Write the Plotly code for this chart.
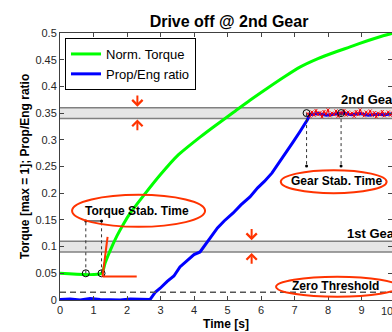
import plotly.graph_objects as go

# ---------------- data ----------------
torque_t = [0, 1.24, 1.35, 1.5, 1.7, 1.9, 2.1, 2.5, 3.0, 3.5, 4.18, 4.6, 5.17, 5.67,
            6.2, 6.7, 7.16, 7.7, 8.2, 8.66, 9.2, 9.6, 9.95]
torque_v = [0.05, 0.05, 0.07, 0.093, 0.12, 0.143, 0.163, 0.196, 0.235, 0.27, 0.305, 0.325,
            0.351, 0.374, 0.397, 0.418, 0.436, 0.452, 0.464, 0.474, 0.486, 0.494, 0.5]

ratio_t = [0, 0.3, 0.6, 0.9, 1.2, 1.5, 1.8, 2.1, 2.4, 2.69, 2.85, 2.99, 3.2, 3.4, 3.58,
           3.8, 4.0, 4.18, 4.48, 4.7, 4.9, 5.17, 5.4, 5.67, 5.9, 6.1, 6.33, 6.55, 6.77,
           6.95, 7.16, 7.3, 7.38, 7.45, 7.7, 7.95, 8.2, 8.45, 8.7, 8.95, 9.2, 9.45, 9.7, 9.95]
ratio_v = [0.001, 0.002, 0.0, 0.003, 0.001, 0.001, 0.0, 0.002, 0.001, 0.001, 0.015, 0.022,
           0.035, 0.045, 0.062, 0.075, 0.085, 0.09, 0.116, 0.135, 0.148, 0.163, 0.178, 0.193,
           0.21, 0.222, 0.238, 0.258, 0.277, 0.295, 0.315, 0.328, 0.337, 0.347, 0.349, 0.346,
           0.348, 0.35, 0.347, 0.349, 0.346, 0.348, 0.347, 0.349]

noisy_t = [7.40, 7.46, 7.52, 7.58, 7.64, 7.70, 7.76, 7.82, 7.88, 7.94, 8.00, 8.06, 8.12,
           8.18, 8.24, 8.30, 8.36, 8.42, 8.48, 8.54, 8.60, 8.66, 8.72, 8.78, 8.84, 8.90,
           8.96, 9.02, 9.08, 9.14, 9.20, 9.26, 9.32, 9.38, 9.44, 9.50, 9.56, 9.62, 9.68,
           9.74, 9.80, 9.86, 9.92]
noisy_v = [0.349, 0.344, 0.352, 0.346, 0.355, 0.347, 0.351, 0.343, 0.353, 0.348, 0.356,
           0.345, 0.350, 0.347, 0.354, 0.344, 0.351, 0.349, 0.355, 0.346, 0.352, 0.348,
           0.350, 0.344, 0.353, 0.347, 0.356, 0.349, 0.345, 0.352, 0.348, 0.354, 0.346,
           0.351, 0.343, 0.350, 0.347, 0.353, 0.345, 0.349, 0.352, 0.346, 0.350]

gear_bands = [(0.09, 0.11), (0.34, 0.36)]
gear_labels = ["1st Gear", "2nd Gear"]
zero_threshold = 0.0145

torque_stab_t = [0.77, 1.24]
torque_stab_v = 0.05
torque_mark_v = 0.148
gear_stab_t = [7.36, 8.39]
gear_stab_v = 0.35
gear_mark_v = 0.251

tangent_h_t = [1.27, 2.29]
tangent_h_v = [0.044, 0.044]
tangent_s_t = [1.27, 1.42]
tangent_s_v = [0.044, 0.118]

x_ticks = [0, 1, 2, 3, 4, 5, 6, 7, 8, 9]
y_ticks = [0, 0.05, 0.1, 0.15, 0.2, 0.25, 0.3, 0.35, 0.4, 0.45, 0.5]

RED = "#ff3300"
FONT = "Liberation Sans, Arial, sans-serif"

fig = go.Figure()

# main series
fig.add_trace(go.Scatter(x=torque_t, y=torque_v, mode="lines", name="Norm. Torque",
                         line=dict(color="#00ff00", width=3, shape="spline", smoothing=0.6)))
fig.add_trace(go.Scatter(x=ratio_t, y=ratio_v, mode="lines", name="Prop/Eng ratio",
                         line=dict(color="#0000ff", width=3)))
fig.add_trace(go.Scatter(x=noisy_t, y=noisy_v, mode="lines+markers", showlegend=False,
                         line=dict(color="#ff0000", width=1),
                         marker=dict(symbol="x-thin", size=3, color="#ff0000",
                                     line=dict(width=1, color="#ff0000"))))

# stabilization markers
for ts, v0, v1 in [(torque_stab_t, torque_stab_v, torque_mark_v),
                   (gear_stab_t, gear_stab_v, gear_mark_v)]:
    for t in ts:
        fig.add_trace(go.Scatter(x=[t, t], y=[v0, v1], mode="lines", showlegend=False,
                                 line=dict(color="#333333", width=1, dash="dot")))
    fig.add_trace(go.Scatter(x=ts, y=[v0, v0], mode="markers", showlegend=False,
                             marker=dict(symbol="circle-open", size=7, color="#000000",
                                         line=dict(width=1))))
    fig.add_trace(go.Scatter(x=ts, y=[v1, v1], mode="markers", showlegend=False,
                             marker=dict(symbol="circle", size=3, color="#000000")))
fig.add_trace(go.Scatter(x=torque_stab_t, y=[torque_mark_v, torque_mark_v], mode="lines",
                         showlegend=False, line=dict(color="#000000", width=1)))

# tangent lines
fig.add_trace(go.Scatter(x=tangent_h_t, y=tangent_h_v, mode="lines", showlegend=False,
                         line=dict(color=RED, width=2)))
fig.add_trace(go.Scatter(x=tangent_s_t, y=tangent_s_v, mode="lines", showlegend=False,
                         line=dict(color=RED, width=2)))

shapes = []
for lo, hi in gear_bands:
    shapes.append(dict(type="rect", xref="paper", x0=0, x1=1, yref="y", y0=lo, y1=hi,
                       fillcolor="#e6e6e6", line=dict(width=0), layer="below"))
    for yv in (lo, hi):
        shapes.append(dict(type="line", xref="paper", x0=0, x1=1, yref="y", y0=yv, y1=yv,
                           line=dict(color="#808080", width=1.5), layer="below"))
shapes.append(dict(type="line", xref="paper", x0=0, x1=1, yref="y", y0=zero_threshold,
                   y1=zero_threshold, line=dict(color="#555555", width=1.3, dash="6px,4px")))
# ellipses
for x0, x1, y0, y1 in [(0.36, 4.33, 0.137, 0.197), (6.59, 9.75, 0.200, 0.243),
                       (6.45, 10.1, 0.0062, 0.0436)]:
    shapes.append(dict(type="circle", xref="x", yref="y", x0=x0, x1=x1, y0=y0, y1=y1,
                       line=dict(color=RED, width=2)))

annotations = []
for txt, x, y in [("Torque Stab. Time", 2.30, 0.166), ("Gear Stab. Time", 8.24, 0.2225),
                  ("Zero Threshold", 8.22, 0.0255)]:
    annotations.append(dict(text="<b>%s</b>" % txt, x=x, y=y, xref="x", yref="y",
                            showarrow=False, font=dict(size=12, color="#000000", family=FONT)))
for lbl, (lo, hi), x in zip(gear_labels, gear_bands, [8.51, 8.34]):
    annotations.append(dict(text="<b>%s</b>" % lbl, x=x, y=hi + 0.015, xref="x", yref="y",
                            xanchor="left", showarrow=False,
                            font=dict(size=13, color="#000000", family=FONT)))
# arrows pointing at band edges
for t, (lo, hi) in zip([5.72, 2.31], gear_bands):
    annotations.append(dict(x=t, y=hi + 0.002, ax=t, ay=hi + 0.026, xref="x", yref="y",
                            axref="x", ayref="y", text="", showarrow=True, arrowhead=4,
                            arrowsize=1, arrowwidth=2, arrowcolor=RED))
    annotations.append(dict(x=t, y=lo - 0.002, ax=t, ay=lo - 0.025, xref="x", yref="y",
                            axref="x", ayref="y", text="", showarrow=True, arrowhead=4,
                            arrowsize=1, arrowwidth=2, arrowcolor=RED))
annotations.append(dict(text="10", x=(395 - 60) / 332, y=0, xref="paper", yref="paper",
                        yanchor="top", yshift=-3, showarrow=False,
                        font=dict(size=11, color="#262626", family=FONT)))

fig.update_layout(
    width=392, height=332,
    margin=dict(l=60, r=0, t=33, b=32),
    paper_bgcolor="white", plot_bgcolor="white",
    font=dict(family=FONT, color="#000000"),
    title=dict(text="<b>Drive off @ 2nd Gear</b>", x=(229) / 392, xanchor="center",
               y=1 - 21 / 332, yanchor="middle", font=dict(size=16, color="#000000")),
    showlegend=True,
    legend=dict(x=5 / 332, y=1 - 5 / 267, xanchor="left", yanchor="top",
                bgcolor="white", bordercolor="#000000", borderwidth=1,
                font=dict(size=13, color="#000000")),
    shapes=shapes, annotations=annotations,
    xaxis=dict(range=[0, 9.91], tickvals=x_ticks, ticks="inside", ticklen=4,
               showline=True, linecolor="#404040", linewidth=1, mirror="ticks",
               showgrid=False, zeroline=False, tickfont=dict(size=11, color="#262626"),
               title=dict(text="<b>Time [s]</b>", standoff=4,
                          font=dict(size=12, color="#000000"))),
    yaxis=dict(range=[0, 0.5], tickvals=y_ticks, ticks="inside", ticklen=4,
               showline=True, linecolor="#404040", linewidth=1, mirror="ticks",
               showgrid=False, zeroline=False, tickfont=dict(size=11, color="#262626"),
               title=dict(text="<b>Torque [max = 1]; Prop/Eng ratio</b>", standoff=3,
                          font=dict(size=12, color="#000000"))),
)

fig.write_html("out.html", config={"displayModeBar": False},
               post_script="document.body.style.margin='0';"
                           "document.body.style.overflow='hidden';")
